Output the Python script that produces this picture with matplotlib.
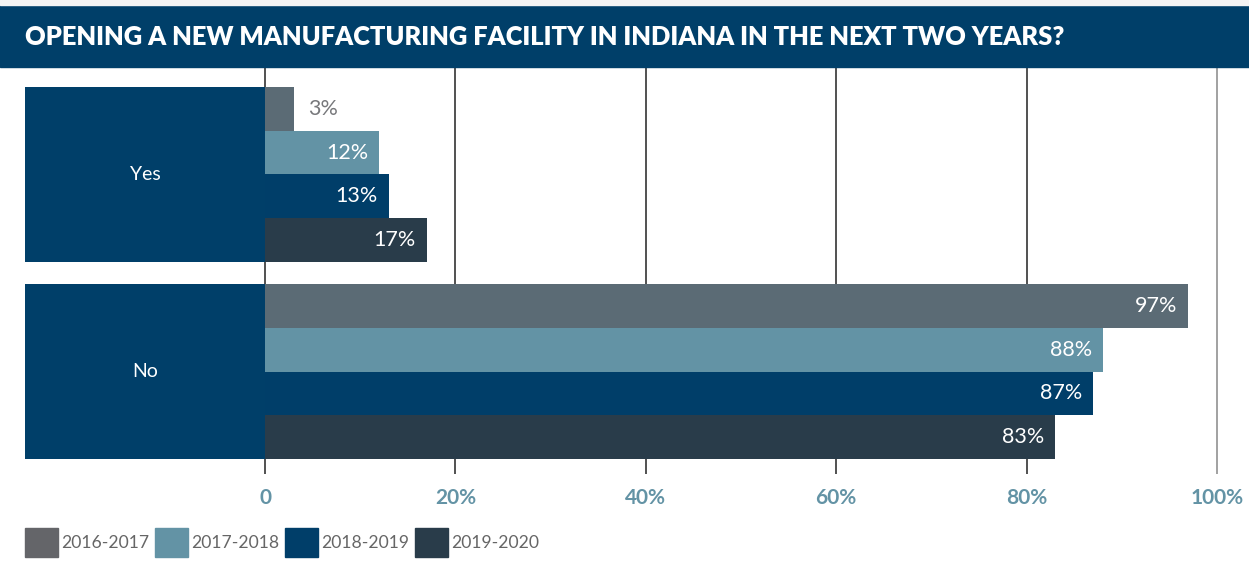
import numpy as np
import matplotlib.pyplot as plt
from matplotlib.patches import Rectangle

# data
categories = ['Yes', 'No']
years = ['2016-2017', '2017-2018', '2018-2019', '2019-2020']
values = {
    'Yes': [3, 12, 13, 17],
    'No': [97, 88, 87, 83],
}
ticks = [0, 20, 40, 60, 80, 100]
tick_labels = ['0', '20%', '40%', '60%', '80%', '100%']

bar_colors = ['#5b6b75', '#6393a5', '#003e69', '#293c4a']
legend_colors = ['#646569', '#6393a5', '#003e69', '#293c4a']
navy = '#003f69'

plt.rcParams['font.family'] = ['Lato', 'DejaVu Sans']

W, H = 1249, 572
fig = plt.figure(figsize=(W / 100, H / 100), dpi=100)
fig.patch.set_facecolor('white')

# title bar
fig.patches.append(Rectangle((0, 1 - 67 / H), 1, 62 / H, transform=fig.transFigure,
                             color=navy, zorder=0))
fig.patches.append(Rectangle((0, 1 - 5 / H), 1, 5 / H, transform=fig.transFigure,
                             color='#f4f4f4', zorder=0))
fig.text(25 / W, 1 - 37 / H, 'OPENING A NEW MANUFACTURING FACILITY IN INDIANA IN THE NEXT TWO YEARS?',
         color='white', fontsize=18.4, fontweight='heavy', va='center', ha='left')

# axes placed in pixel positions
ax_left, ax_right = 25, 1249
ax_top, ax_bottom = 67, 474
ax = fig.add_axes([ax_left / W, 1 - ax_bottom / H, (ax_right - ax_left) / W, (ax_bottom - ax_top) / H])
px_per_unit = (1217 - 265) / 100
xmin = -(265 - ax_left) / px_per_unit
xmax = 100 + (ax_right - 1217) / px_per_unit
ax.set_xlim(xmin, xmax)

bar_h = 1.0
group_gap = 0.5
n = len(years)
pad_top = 20 / 44
pad_bot = 15 / 44
ymin = -0.5 - pad_top
ymax = n * 2 + group_gap - 0.5 + pad_bot
ax.set_ylim(ymax, ymin)

for gi, cat in enumerate(categories):
    base = gi * (n + group_gap)
    ys = base + np.arange(n)
    # category box
    ax.barh(base + (n - 1) / 2, -xmin, height=n, left=xmin, color=navy, zorder=3)
    ax.text(xmin / 2, base + (n - 1) / 2, cat, color='white', fontsize=14,
            ha='center', va='center', zorder=4)
    for i, (v, c) in enumerate(zip(values[cat], bar_colors)):
        ax.barh(ys[i], v, height=bar_h, left=0, color=c, zorder=3)
        if v < 6:
            ax.text(v + 1.5, ys[i], f'{v}%', color='#77787b', fontsize=15.5,
                    ha='left', va='center', zorder=4)
        else:
            ax.text(v - 1.15, ys[i], f'{v}%', color='white', fontsize=15.5,
                    ha='right', va='center', zorder=4)

# gridlines
for t in ticks:
    ax.axvline(t, color='#888888' if t == 100 else '#222222', lw=1.1, zorder=1)

ax.set_xticks(ticks)
ax.set_xticklabels(tick_labels, fontsize=15, fontweight='bold', color='#6393a5')
ax.tick_params(axis='x', length=0, pad=10)
ax.set_yticks([])
for s in ax.spines.values():
    s.set_visible(False)
ax.patch.set_alpha(0)

# legend
for i, (lab, c) in enumerate(zip(years, legend_colors)):
    x0 = 25 + i * 130
    fig.patches.append(Rectangle((x0 / W, 1 - 557 / H), 33 / W, 29 / H,
                                 transform=fig.transFigure, color=c, zorder=2))
    fig.text((x0 + 36) / W, 1 - 543 / H, lab, color='#666666', fontsize=12.6,
             ha='left', va='center')

fig.savefig('out.png', dpi=100)
